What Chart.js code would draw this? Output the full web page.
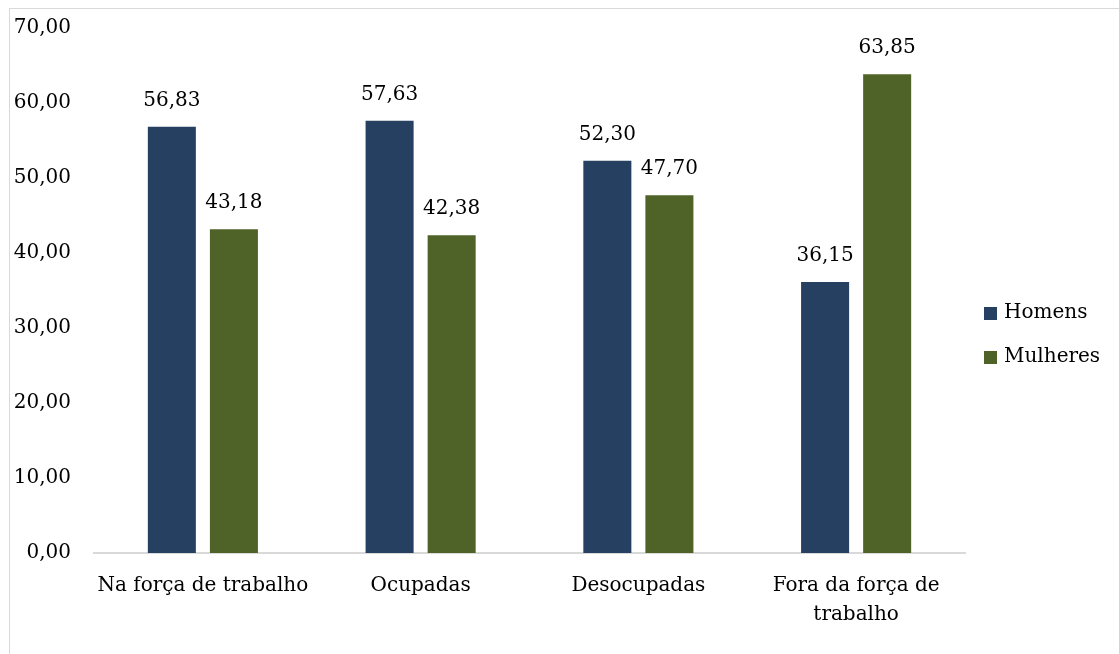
<!DOCTYPE html>
<html>
<head>
<meta charset="utf-8">
<script src="https://cdn.jsdelivr.net/npm/chart.js@4.4.1/dist/chart.umd.min.js"></script>
<style>
  html, body { margin: 0; padding: 0; background: #fff; overflow: hidden; }
  #frame {
    position: absolute; left: 9px; top: 8px;
    border: 1px solid #d9d9d9;
    width: 1120px; height: 660px;
    overflow: hidden;
  }
  #myChart { position: absolute; left: 0; top: -16px; }
</style>
</head>
<body>
<div id="frame"><canvas id="myChart" width="1120" height="676"></canvas></div>
<script>
'use strict';

const categories = ['Na força de trabalho', 'Ocupadas', 'Desocupadas', ['Fora da força de', 'trabalho']];
const seriesNames = ['Homens', 'Mulheres'];
const homens = [56.83, 57.63, 52.30, 36.15];
const mulheres = [43.18, 42.38, 47.70, 63.85];
const yTicks = [0, 10, 20, 30, 40, 50, 60, 70];

const FONT = 'DejaVu Serif';
const colors = ['#264061', '#4f6228'];

function fmt(v) {
  return v.toFixed(2).replace('.', ',');
}

// value labels over the bars
const valueLabels = {
  id: 'valueLabels',
  afterDatasetsDraw(chart) {
    const ctx = chart.ctx;
    ctx.save();
    ctx.font = '20px "' + FONT + '"';
    ctx.fillStyle = '#000';
    ctx.textAlign = 'center';
    ctx.textBaseline = 'middle';
    chart.data.datasets.forEach((ds, i) => {
      chart.getDatasetMeta(i).data.forEach((bar, j) => {
        ctx.fillText(fmt(ds.data[j]), bar.x, bar.y - 26);
      });
    });
    ctx.restore();
  }
};

// legend on the right, drawn by hand
const sideLegend = {
  id: 'sideLegend',
  afterDraw(chart) {
    const ctx = chart.ctx;
    ctx.save();
    ctx.font = '20px "' + FONT + '"';
    ctx.textBaseline = 'middle';
    chart.data.datasets.forEach((ds, i) => {
      const y = 320 + i * 44;
      ctx.fillStyle = ds.backgroundColor;
      ctx.fillRect(974, y - 6, 13, 13);
      ctx.fillStyle = '#000';
      ctx.fillText(ds.label, 994, y);
    });
    ctx.restore();
  }
};

let ctx = document.getElementById('myChart').getContext('2d');
let chart = new Chart(ctx, {
  type: 'bar',
  data: {
    labels: categories,
    datasets: [{
      label: seriesNames[0],
      backgroundColor: colors[0],
      data: homens
    },
    {
      label: seriesNames[1],
      backgroundColor: colors[1],
      data: mulheres
    }]
  },
  options: {
    responsive: false,
    animation: false,
    categoryPercentage: 0.57,
    barPercentage: 0.774,
    layout: { padding: { left: 0, top: 0, right: 165, bottom: 0 } },
    plugins: {
      legend: { display: false },
      tooltip: { enabled: false }
    },
    scales: {
      x: {
        grid: { display: false, drawTicks: false },
        border: { display: true, color: '#d9d9d9', width: 2 },
        ticks: {
          color: '#000',
          padding: 18,
          maxRotation: 0,
          autoSkip: false,
          font: { family: FONT, size: 20, lineHeight: 1.45 }
        },
        afterFit(scale) { scale.height = 116; }
      },
      y: {
        min: 0,
        max: 70,
        grid: { display: false, drawTicks: false },
        border: { display: false },
        afterBuildTicks(scale) {
          scale.ticks = yTicks.map(v => ({ value: v }));
        },
        ticks: {
          color: '#000',
          padding: 23,
          font: { family: FONT, size: 20 },
          callback: v => fmt(v)
        },
        afterFit(scale) { scale.width = 84; }
      }
    }
  },
  plugins: [valueLabels, sideLegend]
});
</script>
</body>
</html>
